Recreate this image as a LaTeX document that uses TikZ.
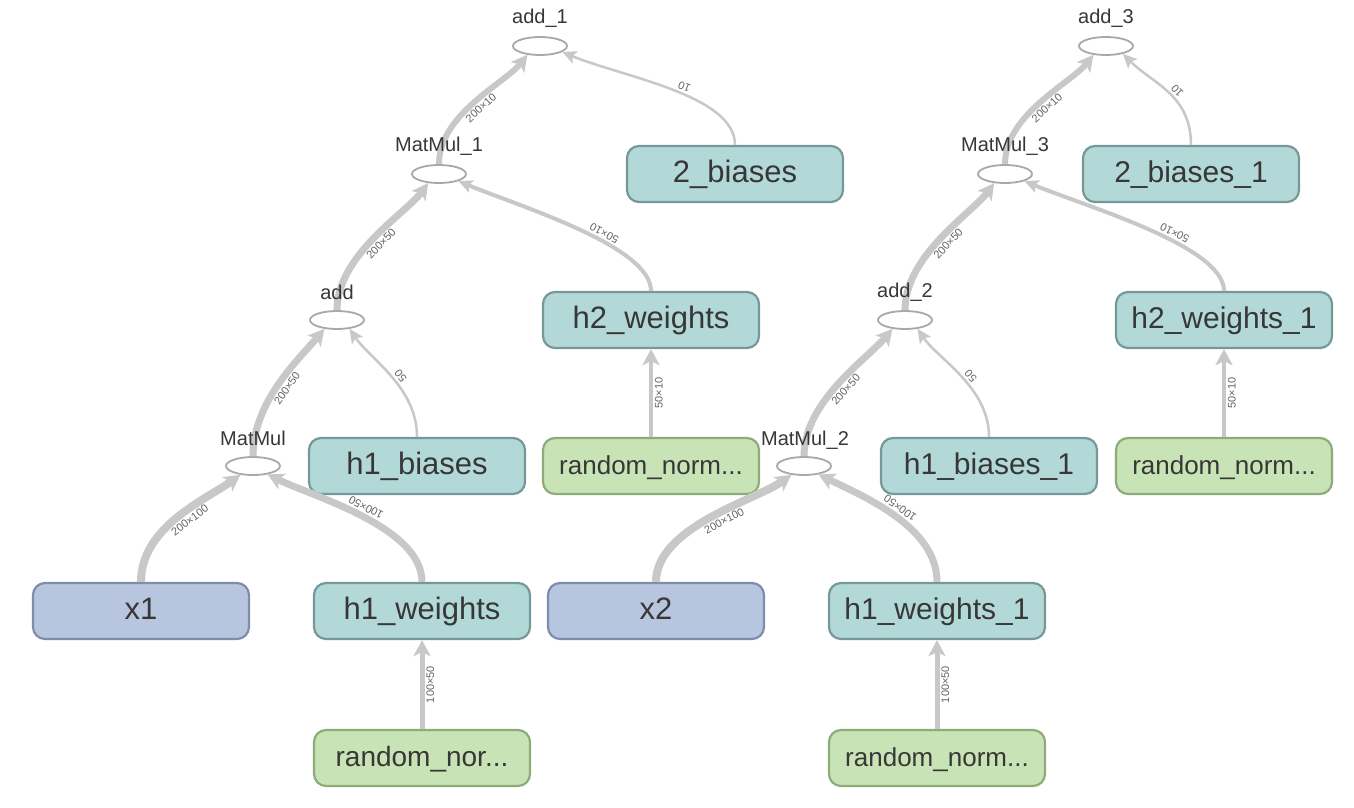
\documentclass[tikz,border=0pt]{standalone}
\usepackage{fontspec}
\setmainfont{Liberation Sans}
\usetikzlibrary{arrows.meta,shapes.geometric}
\definecolor{tealF}{RGB}{179,216,216}
\definecolor{tealD}{RGB}{118,152,152}
\definecolor{greenF}{RGB}{200,228,182}
\definecolor{greenD}{RGB}{142,172,122}
\definecolor{blueF}{RGB}{184,197,223}
\definecolor{blueD}{RGB}{128,140,172}
\definecolor{edgeC}{RGB}{200,200,200}
\definecolor{ellC}{RGB}{168,168,168}
\definecolor{txtC}{RGB}{55,55,55}
\definecolor{lblC}{RGB}{100,100,100}
\newcommand{\fsz}[1]{\fontsize{#1}{#1}\selectfont}
\begin{document}
\begin{tikzpicture}[x=1pt,y=-1pt,
  box/.style={rectangle, rounded corners=12pt, line width=2.2pt, minimum width=216pt, minimum height=56pt, inner sep=0pt, text=txtC, text height=22pt, text depth=6pt},
  tbox/.style={box, draw=tealD, fill=tealF},
  gbox/.style={box, draw=greenD, fill=greenF},
  bbox/.style={box, draw=blueD, fill=blueF},
  opn/.style={ellipse, draw=ellC, fill=white, line width=1.8pt, minimum width=54pt, minimum height=18pt, inner sep=0pt},
  opl/.style={font=\fsz{20}, text=txtC, inner sep=0pt},
  edg/.style={draw=edgeC, -{Stealth[length=16pt,width=17pt,inset=4pt]}},
  edgs/.style={draw=edgeC, -{Stealth[length=14pt,width=13pt,inset=3pt]}},
  elbl/.style={font=\fsz{11}, text=lblC, sloped, below, allow upside down, inner sep=2pt}
]
\useasboundingbox[fill=white] (0,0) rectangle (1354,808);

% ---------- left graph ----------
\node[tbox,font=\fsz{31}] (b2) at (735,174) {2\_biases};
\node[tbox,font=\fsz{31}] (h2w) at (651,320) {h2\_weights};
\node[tbox,font=\fsz{31}] (h1b) at (417,466) {h1\_biases};
\node[gbox,font=\fsz{26}] (rn2) at (651,466) {random\_norm...};
\node[bbox,font=\fsz{31}] (x1) at (141,611) {x1};
\node[tbox,font=\fsz{31}] (h1w) at (422,611) {h1\_weights};
\node[gbox,font=\fsz{28}] (rn1) at (422,758) {random\_nor...};

\node[opn] (add1) at (540,46) {};
\node[opn] (mm1) at (439,174) {};
\node[opn] (add) at (337,320) {};
\node[opn] (mm) at (253,466) {};

% ---------- right graph ----------
\node[tbox,font=\fsz{30}] (b2r) at (1191,174) {2\_biases\_1};
\node[tbox,font=\fsz{30}] (h2wr) at (1224,320) {h2\_weights\_1};
\node[tbox,font=\fsz{30}] (h1br) at (989,466) {h1\_biases\_1};
\node[gbox,font=\fsz{26}] (rn4) at (1224,466) {random\_norm...};
\node[bbox,font=\fsz{31}] (x2) at (656,611) {x2};
\node[tbox,font=\fsz{30}] (h1wr) at (937,611) {h1\_weights\_1};
\node[gbox,font=\fsz{26}] (rn3) at (937,758) {random\_norm...};

\node[opn] (add3) at (1106,46) {};
\node[opn] (mm3) at (1005,174) {};
\node[opn] (add2) at (905,320) {};
\node[opn] (mm2) at (804,466) {};

% ---------- left edges ----------
\draw[edg,line width=8pt] (x1.north) .. controls +(0,-55) and +(-35,25) .. (mm.215) node[elbl,pos=.55] {200×100};
\draw[edg,line width=7pt] (h1w.north) .. controls +(0,-55) and +(45,22) .. (mm.330) node[elbl,pos=.5] {100×50};
\draw[edg,line width=5pt] (rn1.north) -- (h1w.south) node[elbl,pos=.5] {100×50};
\draw[edg,line width=7pt] (mm.north) .. controls +(0,-55) and +(-25,30) .. (add.215) node[elbl,pos=.5] {200×50};
\draw[edgs,line width=2.5pt] (h1b.north) .. controls +(0,-50) and +(20,30) .. (add.325) node[elbl,pos=.45] {50};
\draw[edg,line width=7pt] (add.north) .. controls +(0,-55) and +(-22,30) .. (mm1.220) node[elbl,pos=.5] {200×50};
\draw[edgs,line width=4pt] (h2w.north) .. controls +(0,-45) and +(60,25) .. (mm1.340) node[elbl,pos=.4] {50×10};
\draw[edg,line width=4pt] (rn2.north) -- (h2w.south) node[elbl,pos=.5] {50×10};
\draw[edg,line width=6pt] (mm1.north) .. controls +(0,-50) and +(-22,28) .. (add1.215) node[elbl,pos=.5] {200×10};
\draw[edgs,line width=2.5pt] (b2.north) .. controls +(0,-50) and +(60,25) .. (add1.345) node[elbl,pos=.45] {10};

% ---------- right edges ----------
\draw[edg,line width=8pt] (x2.north) .. controls +(0,-55) and +(-35,25) .. (mm2.215) node[elbl,pos=.55] {200×100};
\draw[edg,line width=7pt] (h1wr.north) .. controls +(0,-55) and +(45,22) .. (mm2.330) node[elbl,pos=.5] {100×50};
\draw[edg,line width=5pt] (rn3.north) -- (h1wr.south) node[elbl,pos=.5] {100×50};
\draw[edg,line width=7pt] (mm2.north) .. controls +(0,-55) and +(-25,30) .. (add2.215) node[elbl,pos=.5] {200×50};
\draw[edgs,line width=2.5pt] (h1br.north) .. controls +(0,-50) and +(20,30) .. (add2.325) node[elbl,pos=.45] {50};
\draw[edg,line width=7pt] (add2.north) .. controls +(0,-55) and +(-22,30) .. (mm3.220) node[elbl,pos=.5] {200×50};
\draw[edgs,line width=4pt] (h2wr.north) .. controls +(0,-45) and +(60,25) .. (mm3.340) node[elbl,pos=.4] {50×10};
\draw[edg,line width=4pt] (rn4.north) -- (h2wr.south) node[elbl,pos=.5] {50×10};
\draw[edg,line width=6pt] (mm3.north) .. controls +(0,-50) and +(-22,28) .. (add3.215) node[elbl,pos=.5] {200×10};
\draw[edgs,line width=2.5pt] (b2r.north) .. controls +(0,-50) and +(30,30) .. (add3.335) node[elbl,pos=.45] {10};

% ---------- op labels (drawn over the edges) ----------
\node[opl] (add1l) at (540,18) {add\_1};
\node[opl] (mm1l) at (439,146) {MatMul\_1};
\node[opl] (addl) at (337,292) {add};
\node[opl] (mml) at (253,438) {MatMul};
\node[opl] (add3l) at (1106,18) {add\_3};
\node[opl] (mm3l) at (1005,146) {MatMul\_3};
\node[opl] (add2l) at (905,292) {add\_2};
\node[opl] (mm2l) at (805,440) {MatMul\_2};
\end{tikzpicture}
\end{document}
